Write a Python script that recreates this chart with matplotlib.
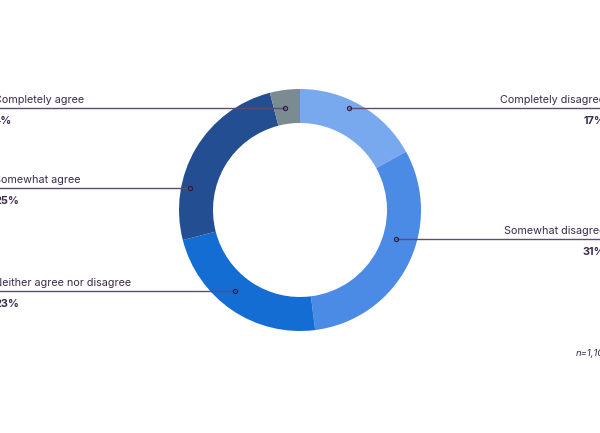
import matplotlib
matplotlib.use("Agg")
import matplotlib.pyplot as plt
import numpy as np

categories = ["Completely disagree", "Somewhat disagree", "Neither agree nor disagree",
              "Somewhat agree", "Completely agree"]
values = [17, 31, 23, 25, 4]
colors = ["#78a9ee", "#4b8be6", "#136dd3", "#234f92", "#7a8b91"]

W, H = 600, 433
# label anchor layout (pixel positions from top-left)
anchor_x = [349, 396, 235, 190, 285]
anchor_y = [108, 239, 291, 188, 108]

fig = plt.figure(figsize=(6, 4.33), dpi=100)
ax = fig.add_axes([0, 0, 1, 1])

cx, cy, R, w = 300, H - 210, 121, 34
wedges, _ = ax.pie(values, colors=colors, startangle=90, counterclock=False,
                   center=(cx, cy), radius=R, wedgeprops=dict(width=w, linewidth=0),
                   frame=True)
ax.set_xlim(0, W)
ax.set_ylim(0, H)
ax.set_aspect("equal")
ax.axis("off")

txt = "#3b2b4d"
lc = "#5d4d70"
fs = 7.8
for cat, v, axp, ayp in zip(categories, values, anchor_x, anchor_y):
    px, py = axp, H - ayp
    right = px > cx
    if right:
        ax.plot([px, W], [py, py], color=lc, lw=1)
        ax.text(605, py + 3, cat, ha="right", va="bottom", fontsize=fs, color=txt, family="Inter")
        ax.text(605, py - 8, f"{v}%", ha="right", va="top", fontsize=fs, color=txt,
                family="Inter", fontweight="bold")
    else:
        ax.plot([0, px], [py, py], color=lc, lw=1)
        ax.text(-6, py + 3, cat, ha="left", va="bottom", fontsize=fs, color=txt, family="Inter")
        ax.text(-6, py - 8, f"{v}%", ha="left", va="top", fontsize=fs, color=txt,
                family="Inter", fontweight="bold")
    ax.plot(px, py, "o", ms=3, mfc="none", mec="#2a1d3d", mew=0.8)

ax.text(576, H - 354, "n=1,100", ha="left", va="center", fontsize=6.8, color=txt,
        family="Inter", style="italic")

fig.savefig("out.png", dpi=100)
